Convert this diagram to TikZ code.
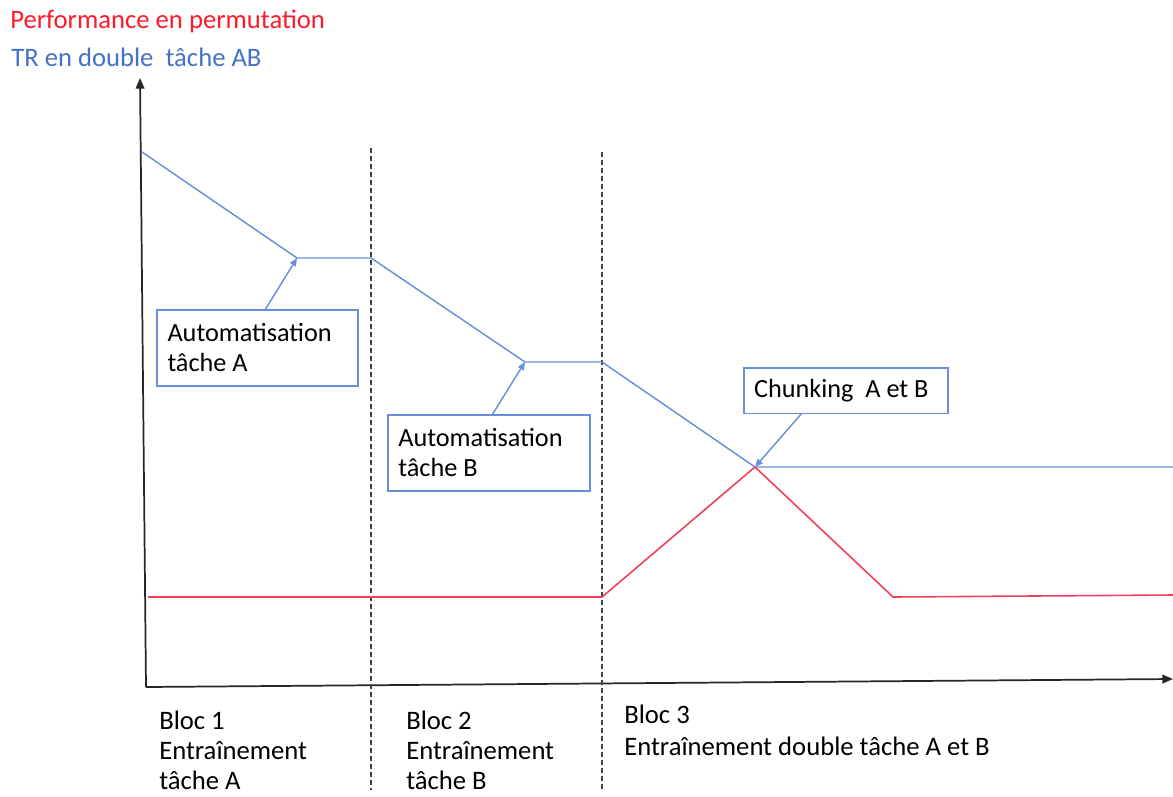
\documentclass[tikz,border=0pt]{standalone}
\usepackage{fontspec}
\setmainfont{Carlito}
\usetikzlibrary{arrows.meta}
\definecolor{tblue}{HTML}{4472C4}
\definecolor{lblue}{HTML}{6A8FDA}
\definecolor{tred}{HTML}{FF1A2A}
\definecolor{lred}{HTML}{F2405A}
\begin{document}
\begin{tikzpicture}[x=0.75pt,y=-0.75pt,
  lbl/.style={font=\fontsize{20}{22.5}\selectfont,inner sep=0pt,anchor=base west},
  callout/.style={draw=lblue,line width=1pt,fill=white,font=\fontsize{19.7}{22.5}\selectfont,
    align=flush left,inner xsep=7.5pt,inner ysep=0pt},
  axis/.style={line width=1.3pt,black!85,-{Triangle[length=8pt,width=6.5pt]}},
  sep/.style={line width=0.9pt,black!75,dash pattern=on 3.5pt off 2.5pt},
  curve/.style={line width=1.1pt,lblue},
  redcurve/.style={line width=1.2pt,lred},
  pointer/.style={line width=1.1pt,lblue,-{Triangle[length=6pt,width=5pt]}}]
\useasboundingbox (0,0) rectangle (1173,796);
% titles
\node[lbl,text=tred] (t1) at (10,28) {Performance en permutation};
\node[lbl,text=tblue] (t2) at (11,66) {TR en double\ \ tâche AB};
% axes
\coordinate (O) at (146,687);
\coordinate (Y) at (140,78);
\coordinate (X) at (1173,679);
\draw[axis] (O) -- (Y);
\draw[axis] (O) -- (X);
% separators
\coordinate (s1a) at (371,148);
\coordinate (s1b) at (371,790);
\coordinate (s2a) at (602,152);
\coordinate (s2b) at (602,790);
\draw[sep] (s1a) -- (s1b);
\draw[sep] (s2a) -- (s2b);
% blue curve
\coordinate (b0) at (142,152);
\coordinate (b1) at (297,258);
\coordinate (b2) at (371,258);
\coordinate (b3) at (525,362);
\coordinate (b4) at (602,362);
\coordinate (b5) at (755,467);
\coordinate (b6) at (1173,467);
\draw[curve] (b0) -- (b1) -- (b2) -- (b3) -- (b4) -- (b5) -- (b6);
% red curve
\coordinate (r0) at (148,597);
\coordinate (r1) at (602,597);
\coordinate (r2) at (755,467);
\coordinate (r3) at (893,597);
\coordinate (r4) at (1173,595);
\draw[redcurve] (r0) -- (r1) -- (r2) -- (r3) -- (r4);
% callouts
\node[callout,minimum width=150.75pt,minimum height=57pt,text width=135pt] (ca) at (257.5,348)
  {Automatisation\\tâche A};
\node[callout,minimum width=151.5pt,minimum height=57pt,text width=136pt] (cb) at (489,453)
  {Automatisation\\tâche B};
\node[callout,minimum width=153pt,minimum height=34pt,text width=138pt] (cc) at (846,390.5)
  {Chunking\ \ A et B};
\coordinate (pa) at (265,310);
\coordinate (pb) at (492,415);
\coordinate (pc) at (802,413);
\draw[pointer] (pa) -- (b1);
\draw[pointer] (pb) -- (b3);
\draw[pointer] (pc) -- (b5);
% block labels
\node[lbl] (l1a) at (159,729) {Bloc 1};
\node[lbl] (l1b) at (159,759) {Entraînement};
\node[lbl] (l1c) at (159,789) {tâche A};
\node[lbl] (l2a) at (406,729) {Bloc 2};
\node[lbl] (l2b) at (406,759) {Entraînement};
\node[lbl] (l2c) at (406,789) {tâche B};
\node[lbl] (l3a) at (624,723) {Bloc 3};
\node[lbl] (l3b) at (624,755) {Entraînement double\ tâche A et B};
\end{tikzpicture}
\end{document}
